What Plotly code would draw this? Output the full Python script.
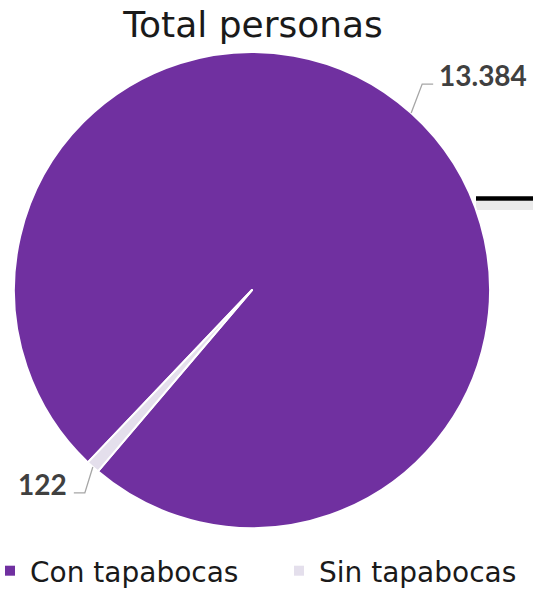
import math
import plotly.graph_objects as go

categories = ["Con tapabocas", "Sin tapabocas"]
values = [13384, 122]
colors = ["#7030A0", "#E4DFEC"]
title_text = "Total personas"

W, H = 533, 590
cx, cy, R = 252, 290, 238
rotation = 223.6

def px(x):
    return x / W

def py(y):
    return 1 - y / H

fig = go.Figure()
fig.add_trace(go.Pie(
    labels=categories,
    values=values,
    marker=dict(colors=colors, line=dict(color="white", width=2)),
    sort=False,
    direction="clockwise",
    rotation=rotation,
    textinfo="none",
    hoverinfo="label+value",
    showlegend=False,
    domain=dict(x=[px(cx - R), px(cx + R)], y=[py(cy + R), py(cy - R)]),
))

# legend entries (one per category, each in its own legend box)
legend_names = ["legend", "legend2"]
for cat, col, lg in zip(categories, colors, legend_names):
    fig.add_trace(go.Scatter(
        x=[None], y=[None], mode="markers", name=cat, legend=lg,
        marker=dict(symbol="square", size=10, color=col),
        hoverinfo="skip", showlegend=True,
    ))

# labels with leader lines, computed from slice mid-angles
total = sum(values)
ang = rotation
shapes = []
annotations = []
for i, v in enumerate(values):
    span = v / total * 360
    mid = math.radians(ang + span / 2)
    ang += span
    sx = cx + R * math.sin(mid)
    sy = cy - R * math.cos(mid)
    right = math.sin(mid) > 0
    ex = sx + (11 if right else -8)
    ey = sy - 29 if right else sy + 26
    hx = ex + (11 if right else -11)
    shapes.append(dict(type="path", xref="paper", yref="paper",
                       path=f"M{px(sx)},{py(sy)} L{px(ex)},{py(ey)} L{px(hx)},{py(ey)}",
                       line=dict(color="#A6A6A6", width=1.3)))
    label = f"{v:,}".replace(",", ".")
    annotations.append(dict(
        x=px(hx + (4 if right else -5)), y=py(ey - 9), xref="paper", yref="paper",
        text=f"<b>{label}</b>", showarrow=False,
        xanchor="left" if right else "right", yanchor="middle",
        font=dict(family="Lato", size=28, color="#404040")))

# decorative line at right edge
shapes.append(dict(type="rect", xref="paper", yref="paper",
                   x0=px(476), x1=1, y0=py(210), y1=py(201),
                   line=dict(width=0), fillcolor="rgba(170,170,170,0.25)", layer="below"))
shapes.append(dict(type="line", xref="paper", yref="paper",
                   x0=px(476), x1=1, y0=py(198.5), y1=py(198.5),
                   line=dict(color="black", width=4.5)))

legend_font = dict(family="DejaVu Sans", size=28, color="#1a1a1a")
fig.update_layout(
    width=W, height=H,
    margin=dict(l=0, r=0, t=0, b=0, autoexpand=False),
    paper_bgcolor="white",
    plot_bgcolor="white",
    xaxis=dict(visible=False),
    yaxis=dict(visible=False),
    title=dict(text=title_text, x=px(253), xanchor="center", y=py(24), yanchor="middle",
               font=dict(family="DejaVu Sans", size=36, color="#1a1a1a")),
    legend=dict(x=px(-10), y=-6 / H, xanchor="left", yanchor="bottom",
                font=legend_font, bgcolor="rgba(0,0,0,0)"),
    legend2=dict(x=px(279), y=-6 / H, xanchor="left", yanchor="bottom",
                 font=legend_font, bgcolor="rgba(0,0,0,0)"),
    shapes=shapes,
    annotations=annotations,
    separators=",.",
)

fig.write_html("out.html", config={"displayModeBar": False},
               post_script="document.body.style.margin='0';")
